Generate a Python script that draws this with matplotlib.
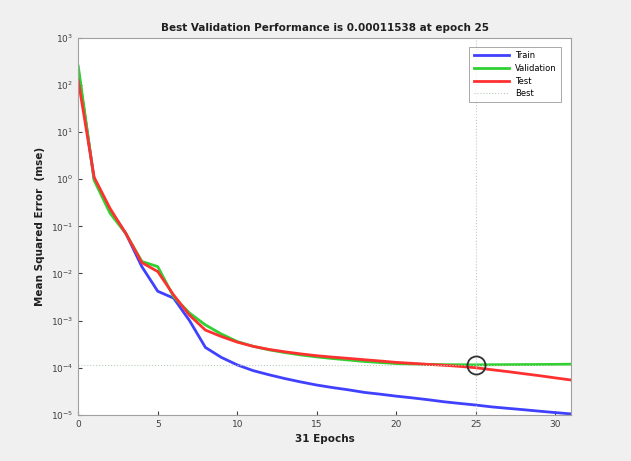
import matplotlib
matplotlib.use("Agg")
import matplotlib.pyplot as plt

epochs = list(range(32))
train = [200, 1.0, 0.22, 0.07, 0.014, 0.0042, 0.003, 1.0e-3, 2.7e-4, 1.66e-4,
         1.15e-4, 8.7e-5, 7.1e-5, 5.9e-5, 5.0e-5, 4.3e-5, 3.8e-5, 3.4e-5, 3.0e-5,
         2.75e-5, 2.5e-5, 2.3e-5, 2.1e-5, 1.9e-5, 1.75e-5, 1.62e-5, 1.48e-5,
         1.38e-5, 1.29e-5, 1.2e-5, 1.12e-5, 1.05e-5]
validation = [250, 0.95, 0.19, 0.07, 0.018, 0.014, 0.0032, 0.00145, 8.1e-4, 5.2e-4,
              3.6e-4, 2.85e-4, 2.4e-4, 2.1e-4, 1.87e-4, 1.7e-4, 1.57e-4, 1.46e-4,
              1.36e-4, 1.29e-4, 1.23e-4, 1.2e-4, 1.18e-4, 1.16e-4, 1.16e-4,
              1.1538e-4, 1.16e-4, 1.165e-4, 1.17e-4, 1.175e-4, 1.18e-4, 1.19e-4]
test = [125, 1.1, 0.24, 0.07, 0.017, 0.011, 0.0035, 0.0013, 6.3e-4, 4.6e-4,
        3.5e-4, 2.85e-4, 2.45e-4, 2.18e-4, 1.97e-4, 1.8e-4, 1.68e-4, 1.58e-4,
        1.48e-4, 1.39e-4, 1.3e-4, 1.24e-4, 1.18e-4, 1.13e-4, 1.07e-4, 1.0e-4,
        9.1e-5, 8.3e-5, 7.5e-5, 6.8e-5, 6.1e-5, 5.5e-5]
best_epoch = 25
best_value = 0.00011538

fig = plt.figure(figsize=(6.31, 4.61), dpi=100, facecolor="#f0f0f0")
ax = fig.add_axes([0.124, 0.1, 0.781, 0.818])
ax.set_facecolor("white")

ax.semilogy(epochs, train, color="#4040ff", lw=2, label="Train")
ax.semilogy(epochs, validation, color="#30d030", lw=2, label="Validation")
ax.semilogy(epochs, test, color="#ff3030", lw=2, label="Test")
ax.axvline(best_epoch, color="#b8d0b8", lw=0.8, ls=":", label="Best")
ax.axhline(best_value, color="#b8d0b8", lw=0.8, ls=":")
ax.plot([best_epoch], [best_value], "o", ms=13, mfc="none", mec="#303030", mew=1.3)

ax.set_xlim(0, 31)
ax.set_ylim(1e-5, 1e3)
ax.set_xticks([0, 5, 10, 15, 20, 25, 30])
ax.set_yticks([10.0**k for k in range(-5, 4)])
ax.minorticks_off()
ax.tick_params(direction="in", labelsize=6.5, colors="#404040", length=3)
for s in ax.spines.values():
    s.set_color("#a0a0a0")
    s.set_linewidth(0.8)

ax.set_title("Best Validation Performance is 0.00011538 at epoch 25",
             fontsize=7.5, fontweight="bold", color="#202020", pad=5)
ax.set_xlabel("31 Epochs", fontsize=7.5, fontweight="bold", color="#202020")
ax.set_ylabel("Mean Squared Error  (mse)", fontsize=7.5, fontweight="bold", color="#202020")

leg = ax.legend(loc="upper right", fontsize=6, frameon=True, fancybox=False,
                handlelength=4.2, borderpad=0.5, labelspacing=0.45,
                bbox_to_anchor=(0.988, 0.987))
leg.get_frame().set_edgecolor("#808080")
leg.get_frame().set_linewidth(0.6)

fig.savefig("out.png", dpi=100, facecolor=fig.get_facecolor())
